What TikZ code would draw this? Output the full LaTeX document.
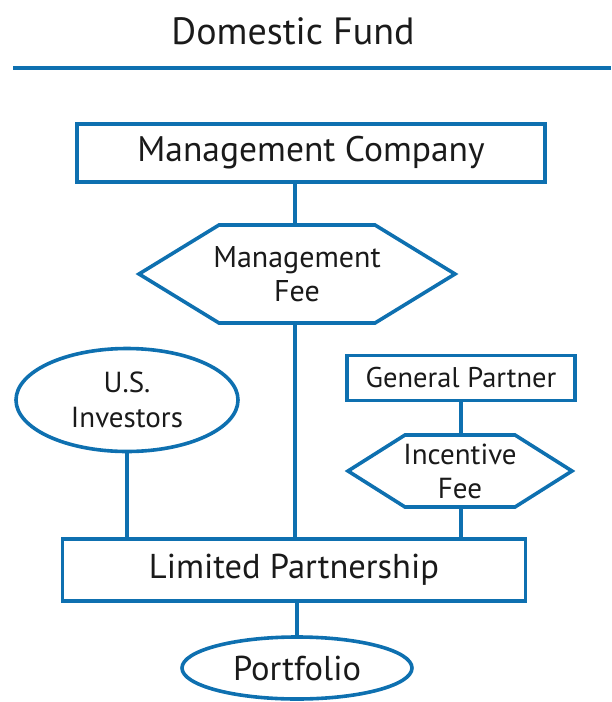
\documentclass[tikz,border=0pt]{standalone}
\usepackage{fontspec}
\setmainfont{PT Sans}
\usetikzlibrary{positioning,calc,shapes.geometric}

\definecolor{fundblue}{RGB}{14,112,176}
\definecolor{inkgray}{RGB}{26,26,26}

\tikzset{
  line/.style={draw=fundblue, line width=3.6pt},
  box/.style={line, rectangle, inner sep=0pt, text=inkgray},
  oval/.style={line, ellipse, inner sep=0pt, text=inkgray, align=center},
  hexnode/.style={rectangle, inner sep=0pt, text=inkgray, align=center},
}

\begin{document}
\begin{tikzpicture}[x=1pt,y=-1pt]
        \useasboundingbox (0,0) rectangle (611,702);

        % heading and rule
        \node[text=inkgray, font=\fontsize{38}{44}\selectfont] (title) at (293,31) {Domestic Fund};
        \coordinate (ruleL) at (13,68);
        \coordinate (ruleR) at (611,68);
        \draw[line] (ruleL) -- (ruleR);

        % boxes
        \node[box, minimum width=468pt, minimum height=58pt, font=\fontsize{35.5}{40}\selectfont] (mc) at (311,153) {Management Company};
        \node[box, minimum width=228pt, minimum height=45pt, font=\fontsize{28.5}{32}\selectfont] (gp) at (461,378) {General Partner};
        \node[box, minimum width=463pt, minimum height=62pt, font=\fontsize{34.5}{40}\selectfont] (lp) at (294,570) {Limited Partnership};

        % ellipses
        \node[oval, minimum width=222pt, minimum height=103pt, font=\fontsize{29}{35}\selectfont] (usi) at (127,400) {U.S.\\Investors};
        \node[oval, minimum width=230pt, minimum height=62pt, font=\fontsize{34.5}{40}\selectfont] (port) at (297,668) {Portfolio};

        % fee hexagons, drawn around their label nodes
        \node[hexnode, font=\fontsize{30}{34}\selectfont] (mfee) at (297,274) {Management\\Fee};
        \draw[line] ($(mfee)+(-78,-49)$) -- ($(mfee)+(78,-49)$) -- ($(mfee)+(158,0)$)
              -- ($(mfee)+(78,49)$) -- ($(mfee)+(-78,49)$) -- ($(mfee)+(-158,0)$) -- cycle;
        \coordinate (mfeeN) at ($(mfee)+(-2,-49)$);
        \coordinate (mfeeS) at ($(mfee)+(-2,49)$);

        \node[hexnode, font=\fontsize{29}{34}\selectfont] (ifee) at (460,471) {Incentive\\Fee};
        \draw[line] ($(ifee)+(-55,-36)$) -- ($(ifee)+(55,-36)$) -- ($(ifee)+(112,0)$)
              -- ($(ifee)+(55,36)$) -- ($(ifee)+(-55,36)$) -- ($(ifee)+(-112,0)$) -- cycle;
        \coordinate (ifeeN) at ($(ifee)+(1,-36)$);
        \coordinate (ifeeS) at ($(ifee)+(1,36)$);

        % connectors
        \draw[line] (mfeeN) -- (mfeeN |- mc.south);
        \draw[line] (mfeeS) -- (mfeeS |- lp.north);
        \draw[line] (usi.south) -- (usi.south |- lp.north);
        \draw[line] (gp.south) -- (ifeeN);
        \draw[line] (ifeeS) -- (ifeeS |- lp.north);
        \draw[line] (port.north) -- (port.north |- lp.south);
\end{tikzpicture}
\end{document}
